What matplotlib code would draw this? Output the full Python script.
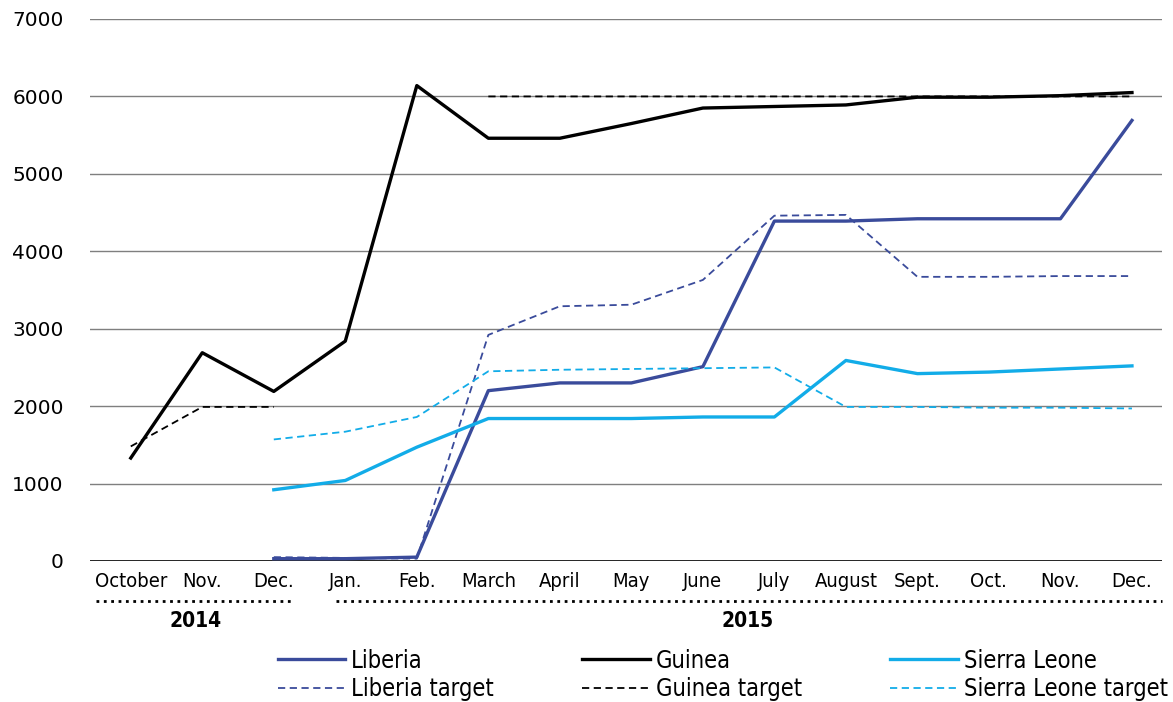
import matplotlib
matplotlib.use('Agg')
import matplotlib.pyplot as plt
import matplotlib.transforms as mtransforms

months = ['October', 'Nov.', 'Dec.', 'Jan.', 'Feb.', 'March', 'April', 'May',
          'June', 'July', 'August', 'Sept.', 'Oct.', 'Nov.', 'Dec.']
x = list(range(len(months)))
nan = float('nan')

guinea = [1330, 2690, 2190, 2840, 6140, 5460, 5460, 5650, 5850, 5870, 5890, 5990, 5990, 6010, 6050]
guinea_target = [1480, 1990, 1990, nan, nan, 6000, 6000, 6000, 6000, 6000, 6000, 6000, 6000, 6000, 6000]
liberia = [nan, nan, 30, 30, 50, 2200, 2300, 2300, 2510, 4390, 4390, 4420, 4420, 4420, 5690]
liberia_target = [nan, nan, 50, 40, 30, 2920, 3290, 3310, 3630, 4460, 4470, 3670, 3670, 3680, 3680]
sierra = [nan, nan, 920, 1040, 1470, 1840, 1840, 1840, 1860, 1860, 2590, 2420, 2440, 2480, 2520]
sierra_target = [nan, nan, 1570, 1670, 1860, 2450, 2470, 2480, 2490, 2500, 1990, 1990, 1980, 1980, 1970]

LIB = '#3a4b9b'
SL = '#12ace8'

fig = plt.figure(figsize=(11.73, 7.02), dpi=100)
ax = fig.add_axes([90 / 1173, 141 / 702, 1072 / 1173, 542 / 702])

for v in range(1000, 8000, 1000):
    ax.axhline(v, color='#7f7f7f', lw=1.0, zorder=1)
ax.axhline(0, color='black', lw=1.2, zorder=1)

l1, = ax.plot(x, liberia, color=LIB, lw=2.4, label='Liberia', zorder=3)
l2, = ax.plot(x, liberia_target, color=LIB, lw=1.3, ls=(0, (4, 2.5)), label='Liberia target', zorder=3)
g1, = ax.plot(x, guinea, color='black', lw=2.4, label='Guinea', zorder=4)
g2, = ax.plot(x, guinea_target, color='black', lw=1.3, ls=(0, (4, 2.5)), label='Guinea target', zorder=4)
s1, = ax.plot(x, sierra, color=SL, lw=2.4, label='Sierra Leone', zorder=3)
s2, = ax.plot(x, sierra_target, color=SL, lw=1.3, ls=(0, (4, 2.5)), label='Sierra Leone target', zorder=3)

ax.set_xlim(-0.57, 14.42)
ax.set_ylim(0, 7000)
ax.set_yticks(range(0, 8000, 1000))
ax.set_yticklabels([str(v) for v in range(0, 8000, 1000)], fontsize=14.5, family='DejaVu Sans')
ax.set_xticks(x)
ax.set_xticklabels(months, fontsize=14.5, family='DejaVu Sans', fontstretch='condensed')
ax.tick_params(axis='both', length=0)
ax.tick_params(axis='y', pad=19)
ax.tick_params(axis='x', pad=8)
for s in ax.spines.values():
    s.set_visible(False)

# year brackets under the month labels
trans = mtransforms.blended_transform_factory(ax.transData, ax.transAxes)
ax.plot([-0.48, 2.28], [-0.074, -0.074], transform=trans, color='black', ls=':', lw=2, clip_on=False)
ax.plot([2.87, 14.42], [-0.074, -0.074], transform=trans, color='black', ls=':', lw=2, clip_on=False)
ax.text(0.9, -0.11, '2014', transform=trans, ha='center', va='center', fontsize=15,
        fontweight='bold', fontstretch='condensed')
ax.text(8.62, -0.11, '2015', transform=trans, ha='center', va='center', fontsize=15,
        fontweight='bold', fontstretch='condensed')

fig.legend(handles=[l1, l2, g1, g2, s1, s2], ncol=3, frameon=False,
           loc='center left', bbox_to_anchor=(278 / 1173, 1 - 675 / 702),
           prop={'family': 'DejaVu Sans', 'stretch': 'condensed', 'size': 17},
           handlelength=2.85, borderpad=0, borderaxespad=0,
           handletextpad=0.25, columnspacing=3.75, labelspacing=0.2)

fig.savefig('out.png', dpi=100)
